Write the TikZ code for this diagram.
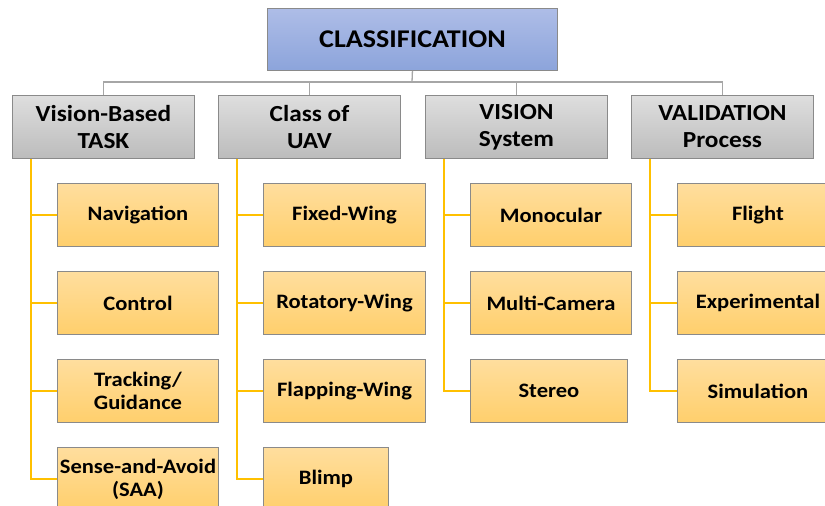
\documentclass[tikz,border=0pt]{standalone}
\usepackage{fontspec}
\setmainfont{Carlito}[FakeStretch=1.1]
\definecolor{topA}{HTML}{AEBDE7}
\definecolor{topB}{HTML}{8CA4DB}
\definecolor{greyA}{HTML}{DEDEDE}
\definecolor{greyB}{HTML}{BCBCBC}
\definecolor{orA}{HTML}{FFDE9E}
\definecolor{orB}{HTML}{FFCF6C}
\definecolor{borderc}{HTML}{8A8A8A}
\definecolor{busc}{HTML}{A6A6A6}
\definecolor{orline}{HTML}{FFC000}
\begin{document}
\begin{tikzpicture}[x=1pt,y=-1pt,
  basebox/.style={anchor=north west, inner sep=0pt, draw=borderc, line width=0.9pt, align=center, font=\bfseries},
  rootbox/.style={basebox, top color=topA, bottom color=topB, minimum width=290pt, minimum height=62pt, font=\fontsize{25.5}{30}\selectfont\bfseries},
  catbox/.style={basebox, top color=greyA, bottom color=greyB, minimum width=182pt, minimum height=63pt, font=\fontsize{23}{27}\selectfont\bfseries},
  leafbox/.style={basebox, top color=orA, bottom color=orB, minimum width=161pt, minimum height=63pt, font=\fontsize{20.5}{23}\selectfont\bfseries},
  busline/.style={draw=busc, line width=1.3pt},
  tie/.style={draw=orline, line width=1.5pt}]
\useasboundingbox (0,0) rectangle (825,506);
\clip (0,0) rectangle (825,506);
\fill[white] (0,0) rectangle (825,506);

% root
\node[rootbox] (root) at (267,8) {CLASSIFICATION};

% categories
\node[catbox] (c1) at (12,95) {Vision-Based\\TASK};
\node[catbox] (c2) at (218,95) {Class of\\UAV};
\node[catbox] (c3) at (425,95) {VISION\\System};
\node[catbox] (c4) at (631,95) {VALIDATION\\Process};

% bus
\coordinate (bus) at (412,82);
\draw[busline] (root.south) -- (bus);
\draw[busline] (c1.north) |- (bus) -| (c4.north);
\draw[busline] (c2.north) -- (c2.north |- bus);
\draw[busline] (c3.north) -- (c3.north |- bus);

% leaves column 1
\node[leafbox] (a1) at (57,183) {Navigation};
\node[leafbox] (a2) at (57,271) {Control};
\node[leafbox] (a3) at (57,359) {Tracking/\\Guidance};
\node[leafbox] (a4) at (57,447) {Sense-and-Avoid\\(SAA)};

% column 2
\node[leafbox, minimum width=162pt] (b1) at (263,183) {Fixed-Wing};
\node[leafbox, minimum width=162pt] (b2) at (263,271) {Rotatory-Wing};
\node[leafbox, minimum width=162pt] (b3) at (263,359) {Flapping-Wing};
\node[leafbox, minimum width=125pt] (b4) at (263,447) {Blimp};

% column 3
\node[leafbox] (d1) at (470,183) {Monocular};
\node[leafbox] (d2) at (470,271) {Multi-Camera};
\node[leafbox, minimum width=157pt] (d3) at (470,359) {Stereo};

% column 4
\node[leafbox] (e1) at (677,183) {Flight};
\node[leafbox] (e2) at (677,271) {Experimental};
\node[leafbox] (e3) at (677,359) {Simulation};

% ties column 1
\coordinate (t1) at (31,158);
\draw[tie] (c1.south -| t1) |- (a4.west);
\draw[tie] (a1.west) -- (a1.west -| t1);
\draw[tie] (a2.west) -- (a2.west -| t1);
\draw[tie] (a3.west) -- (a3.west -| t1);
% column 2
\coordinate (t2) at (237,158);
\draw[tie] (c2.south -| t2) |- (b4.west);
\draw[tie] (b1.west) -- (b1.west -| t2);
\draw[tie] (b2.west) -- (b2.west -| t2);
\draw[tie] (b3.west) -- (b3.west -| t2);
% column 3
\coordinate (t3) at (444,158);
\draw[tie] (c3.south -| t3) |- (d3.west);
\draw[tie] (d1.west) -- (d1.west -| t3);
\draw[tie] (d2.west) -- (d2.west -| t3);
% column 4
\coordinate (t4) at (650,158);
\draw[tie] (c4.south -| t4) |- (e3.west);
\draw[tie] (e1.west) -- (e1.west -| t4);
\draw[tie] (e2.west) -- (e2.west -| t4);
\end{tikzpicture}
\end{document}
